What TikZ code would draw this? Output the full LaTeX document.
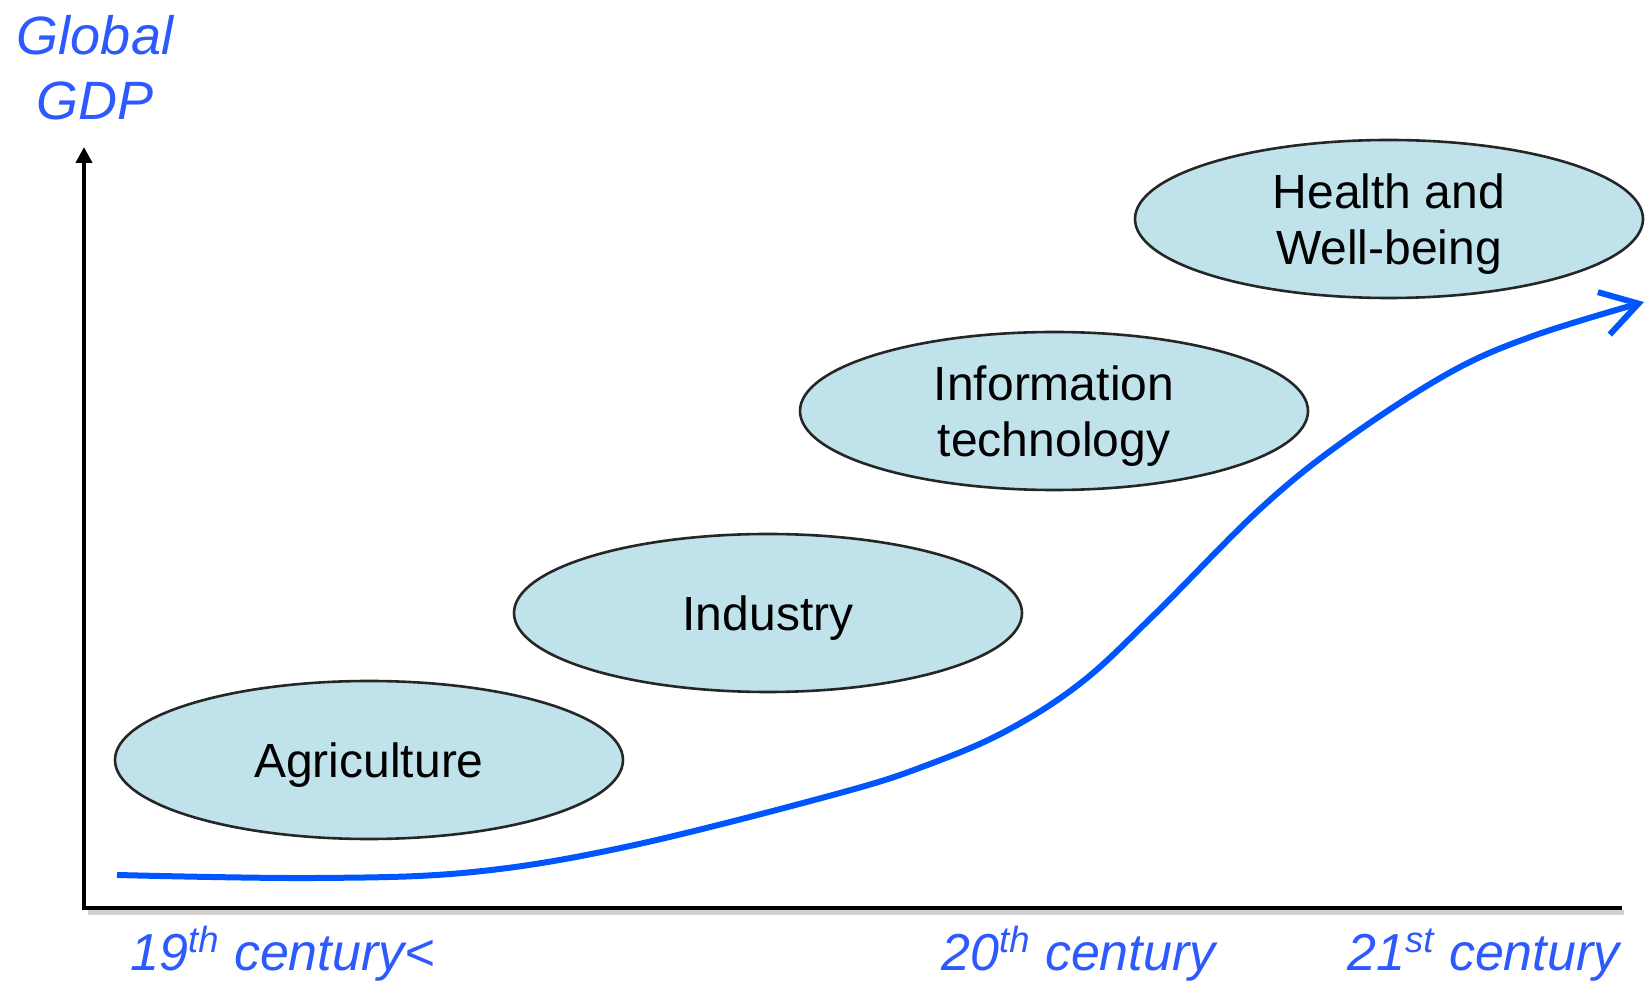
\documentclass[tikz,border=0pt]{standalone}
\usepackage{fontspec}
\setmainfont{Liberation Sans}
\usetikzlibrary{shapes.geometric,arrows.meta}
\definecolor{ellfill}{RGB}{192,226,234}
\definecolor{curveblue}{RGB}{0,85,255}
\definecolor{labelblue}{RGB}{45,90,255}
\begin{document}
\begin{tikzpicture}[x=0.5pt,y=-0.5pt,
  era/.style={ellipse, draw=black!85, line width=1.3pt, fill=ellfill,
    minimum width=254pt, minimum height=79pt, inner sep=0pt, align=center,
    text depth=0pt, font=\fontsize{24}{28}\selectfont},
  axis/.style={line width=2pt, black},
  lbl/.style={text=labelblue, font=\fontsize{26}{32.5}\selectfont\itshape, inner sep=0pt},
  growth/.style={curveblue, line width=3pt, -{Straight Barb[length=18pt,width=22pt]}}]
\useasboundingbox (0,0) rectangle (1646,983);
% axes
\coordinate (o) at (84,908);
\coordinate (ytop) at (84,147);
\coordinate (xend) at (1622,908);
\coordinate (sh1) at (88,913);
\coordinate (sh2) at (1624,913);
\draw[line width=2.5pt, black!18] (sh1) -- (sh2);
\draw[axis, -{Triangle[length=8pt,width=8pt]}] (xend) -- (o) -- (ytop);
% labels
\node[lbl, align=center, font=\fontsize{27}{32.5}\selectfont\itshape] (gdp) at (95,68) {Global\\GDP};
\node[lbl, anchor=base west] (l19) at (130,971) {19\textsuperscript{th} century<};
\node[lbl, anchor=base west] (l20) at (941,971) {20\textsuperscript{th} century};
\node[lbl, anchor=base west] (l21) at (1347,971) {21\textsuperscript{st} century};
% eras
\node[era] (agri) at (369,760) {Agriculture};
\node[era] (ind) at (768,613) {Industry};
\node[era] (it) at (1054,411) {Information\\technology};
\node[era] (hw) at (1389,219) {Health and\\Well-being};
% growth curve
\coordinate (cs) at (117,875);
\coordinate (ce) at (1644,302);
\draw[growth] plot[smooth, tension=0.6] coordinates {(cs) (315,878) (473,872) (630,846) (840,793) (930,764) (1008,730) (1082,682) (1155,614) (1260,509) (1344,441) (1449,373) (1533,336) (ce)};
\end{tikzpicture}
\end{document}
